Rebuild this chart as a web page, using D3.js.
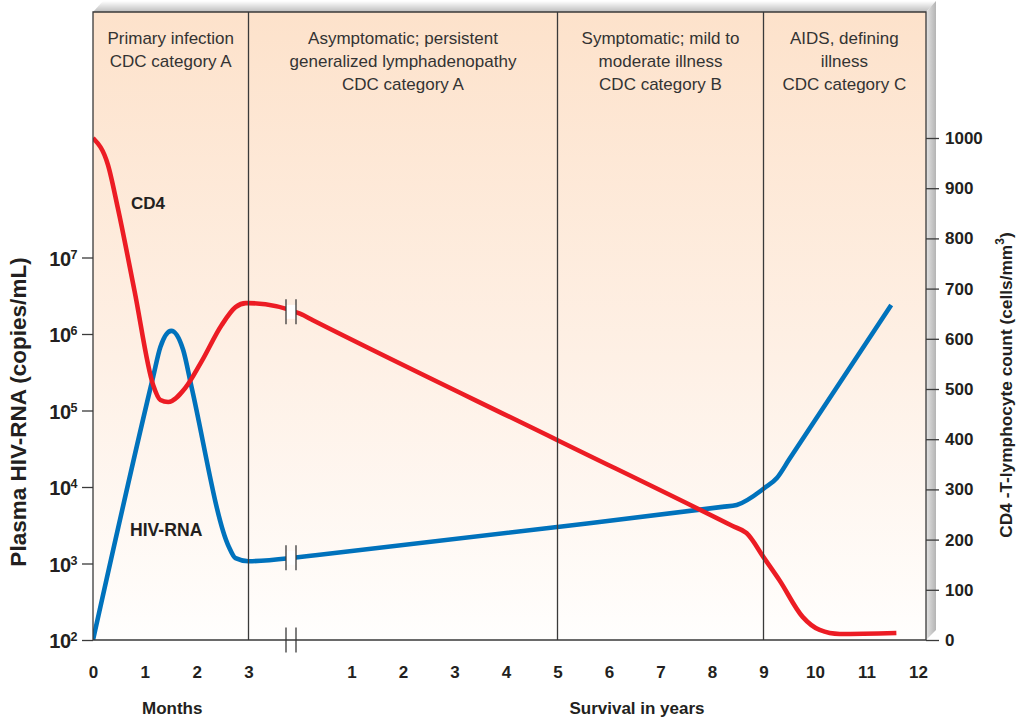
<!DOCTYPE html>
<html>
<head>
<meta charset="utf-8">
<script src="https://cdn.jsdelivr.net/npm/d3@7"></script>
<style>
  body { margin: 0; background: #ffffff; }
  svg { display: block; font-family: "Liberation Sans", Arial, Helvetica, sans-serif; }
</style>
</head>
<body>
<svg id="chart" width="1018" height="721"></svg>
<script>
// ---- Clinical phases shown as header columns ----
const phaseLabels = [
  ["Primary infection", "CDC category A"],
  ["Asymptomatic; persistent", "generalized lymphadenopathy", "CDC category A"],
  ["Symptomatic; mild to", "moderate illness", "CDC category B"],
  ["AIDS, defining", "illness", "CDC category C"]
];
// Phase boundaries as [time unit, value]
const phaseBounds = [["month", 0], ["month", 3], ["year", 5], ["year", 9], ["year", 12.14]];

// ---- Axis ticks ----
const monthTicks = [0, 1, 2, 3];
const yearTicks = [1, 2, 3, 4, 5, 6, 7, 8, 9, 10, 11, 12];
const hivExponents = [2, 3, 4, 5, 6, 7];
const cd4Ticks = [0, 100, 200, 300, 400, 500, 600, 700, 800, 900, 1000];

// ---- CD4 T-lymphocyte count (cells/mm3) ----
const cd4Months = [0, 0.29, 0.48, 0.80, 1.16, 1.30, 1.45, 1.78, 2.09, 2.48, 2.75, 2.95, 3.0];
const cd4MonthValues = [1000, 946, 860, 696, 508, 478, 474, 502, 554, 627, 663, 671, 671];
const cd4Years = [0, 0.25, 5, 8.4, 8.67, 9.02, 9.31, 9.76, 10.09, 10.48, 11.58];
const cd4YearValues = [650, 637, 398, 227, 213, 162, 119, 46, 20, 12, 14];

// ---- Plasma HIV-RNA (copies/mL) ----
const hivMonths = [0, 1.16, 1.30, 1.51, 1.74, 1.90, 2.62, 2.75, 3.0];
const hivMonthValues = [100, 275000, 676000, 1100000, 617000, 204000, 1660, 1175, 1070];
const hivYears = [0, 0.3, 5, 8.2, 8.48, 9.02, 9.26, 9.5, 11.48];
const hivYearValues = [1216, 1280, 3000, 5500, 5820, 9700, 13100, 23000, 2400000];

// ---- Layout ----
const L = 93, R = 926, T = 12, B = 640;
const ink = "#3a3a3a", textCol = "#231f20";
const redCol = "#ec1c24", blueCol = "#0072bc";

const svg = d3.select("#chart");

const xMonths = d3.scaleLinear().domain([0, 3]).range([L, 248.5]);
const xYears = d3.scaleLinear().domain([0, 12]).range([300, 918]);
const xAt = ([unit, v]) => unit === "month" ? xMonths(v) : xYears(v);
const yHiv = d3.scaleLog().domain([1e2, 1e7]).range([B, 257.5]);
const yCD4 = d3.scaleLinear().domain([0, 1000]).range([B, 138]);

// ---- Gradients ----
const defs = svg.append("defs");
const bg = defs.append("linearGradient").attr("id", "bgGrad")
  .attr("x1", 0).attr("y1", 0).attr("x2", 0).attr("y2", 1);
bg.append("stop").attr("offset", "0%").attr("stop-color", "#fde2cb");
bg.append("stop").attr("offset", "55%").attr("stop-color", "#fef0e5");
bg.append("stop").attr("offset", "100%").attr("stop-color", "#fffefd");

const topBevel = defs.append("linearGradient").attr("id", "topBevel")
  .attr("x1", 0).attr("y1", 0).attr("x2", 0).attr("y2", 1);
topBevel.append("stop").attr("offset", "0%").attr("stop-color", "#ffffff");
topBevel.append("stop").attr("offset", "100%").attr("stop-color", "#bdbdbd");

const sideBevel = defs.append("linearGradient").attr("id", "sideBevel")
  .attr("x1", 0).attr("y1", 0).attr("x2", 1).attr("y2", 0);
sideBevel.append("stop").attr("offset", "0%").attr("stop-color", "#e4e4e4");
sideBevel.append("stop").attr("offset", "100%").attr("stop-color", "#b4b4b4");

defs.append("clipPath").attr("id", "plotClip")
  .append("rect").attr("x", L).attr("y", T).attr("width", R - L).attr("height", B - T);

// ---- Panel with bevelled top and right edges ----
svg.append("polygon")
  .attr("points", [[L, T], [L + 10, T - 11], [R + 10, T - 11], [R, T]].join(" "))
  .attr("fill", "url(#topBevel)");
svg.append("polygon")
  .attr("points", [[R, T], [R + 10, T - 11], [R + 10, B - 10], [R, B]].join(" "))
  .attr("fill", "url(#sideBevel)");
svg.append("rect")
  .attr("x", L).attr("y", T).attr("width", R - L).attr("height", B - T)
  .attr("fill", "url(#bgGrad)");

// ---- Header labels per phase ----
const header = svg.append("g").attr("fill", "#333333").attr("font-size", 17).attr("text-anchor", "middle");
phaseLabels.forEach((lines, i) => {
  const cx = (xAt(phaseBounds[i]) + xAt(phaseBounds[i + 1])) / 2;
  const t = header.append("text").attr("x", cx).attr("y", 43.5);
  lines.forEach((ln, j) => t.append("tspan").attr("x", cx).attr("dy", j === 0 ? 0 : 23.2).text(ln));
});

// ---- Curves ----
const line = d3.line().x(d => d.x).y(d => d.y).curve(d3.curveMonotoneX);

const cd4Pts = cd4Months.map((t, i) => ({ x: xMonths(t), y: yCD4(cd4MonthValues[i]) }))
  .concat(cd4Years.map((t, i) => ({ x: xYears(t), y: yCD4(cd4YearValues[i]) })));
const hivPts = hivMonths.map((t, i) => ({ x: xMonths(t), y: yHiv(hivMonthValues[i]) }))
  .concat(hivYears.map((t, i) => ({ x: xYears(t), y: yHiv(hivYearValues[i]) })));

const curves = svg.append("g").attr("clip-path", "url(#plotClip)");
curves.append("path").attr("d", line(hivPts))
  .attr("fill", "none").attr("stroke", blueCol).attr("stroke-width", 4.6);
curves.append("path").attr("d", line(cd4Pts))
  .attr("fill", "none").attr("stroke", redCol).attr("stroke-width", 4.6);

// ---- Phase dividers ----
svg.append("g").selectAll("line")
  .data(phaseBounds.slice(1, -1))
  .join("line")
  .attr("x1", d => xAt(d)).attr("x2", d => xAt(d))
  .attr("y1", T).attr("y2", B)
  .attr("stroke", ink).attr("stroke-width", 1.3);

// ---- Panel border ----
svg.append("path")
  .attr("d", `M${L},${B}V${T}H${R}V${B}H${L}`)
  .attr("fill", "none").attr("stroke", ink).attr("stroke-width", 1.3);

// ---- Axis break between months and years ----
const breakA = xYears(0) - 14, breakB = xYears(0) - 4;
const breakAt = (months, mv, years, yv, yScale) => {
  const y0 = yScale(mv[mv.length - 1]), y1 = yScale(yv[0]);
  const x0 = xMonths(months[months.length - 1]), x1 = xYears(years[0]);
  const f = ((breakA + breakB) / 2 - x0) / (x1 - x0);
  return y0 + (y1 - y0) * f;
};
const breakYs = [
  { y: breakAt(cd4Months, cd4MonthValues, cd4Years, cd4YearValues, yCD4), gap: true },
  { y: breakAt(hivMonths, hivMonthValues, hivYears, hivYearValues, yHiv), gap: true },
  { y: B, gap: false }
];
const breaks = svg.append("g");
breakYs.forEach(b => {
  if (b.gap) {
    breaks.append("rect").attr("x", breakA).attr("y", b.y - 7)
      .attr("width", breakB - breakA).attr("height", 14).attr("fill", "#ffffff");
  }
  [breakA, breakB].forEach(x => breaks.append("line")
    .attr("x1", x).attr("x2", x).attr("y1", b.y - 12.5).attr("y2", b.y + 12.5)
    .attr("stroke", ink).attr("stroke-width", 1.3));
});

// ---- Left axis: HIV-RNA (log) ----
const leftAxis = svg.append("g").attr("transform", `translate(${L},0)`)
  .call(d3.axisLeft(yHiv).tickValues(hivExponents.map(e => Math.pow(10, e))).tickSize(11).tickFormat(() => ""));
leftAxis.select(".domain").remove();
leftAxis.selectAll(".tick line").attr("stroke", ink).attr("stroke-width", 1.3);
leftAxis.selectAll(".tick text").remove();
leftAxis.selectAll(".tick").each(function (d) {
  const t = d3.select(this).append("text")
    .attr("x", -16).attr("y", 7.5).attr("text-anchor", "end")
    .attr("fill", textCol).attr("font-size", 20).attr("font-weight", "bold")
    .attr("letter-spacing", -0.5);
  t.append("tspan").text("10");
  t.append("tspan").attr("font-size", 12.5).attr("dy", -7).text(Math.round(Math.log10(d)));
});

// ---- Right axis: CD4 count ----
const rightAxis = svg.append("g").attr("transform", `translate(${R},0)`)
  .call(d3.axisRight(yCD4).tickValues(cd4Ticks).tickSize(13).tickPadding(6).tickFormat(d3.format("d")));
rightAxis.select(".domain").remove();
rightAxis.selectAll(".tick line").attr("stroke", ink).attr("stroke-width", 1.3);
rightAxis.selectAll(".tick text").attr("fill", textCol).attr("font-size", 17)
  .attr("font-weight", "bold").attr("font-family", null);

// ---- Bottom axes: months then years ----
const styleBottom = g => {
  g.select(".domain").remove();
  g.selectAll(".tick line").remove();
  g.selectAll(".tick text").attr("fill", textCol).attr("font-size", 17)
    .attr("font-weight", "bold").attr("font-family", null);
};
svg.append("g").attr("transform", `translate(0,${B})`)
  .call(d3.axisBottom(xMonths).tickValues(monthTicks).tickSize(0).tickPadding(26).tickFormat(d3.format("d")))
  .call(styleBottom);
svg.append("g").attr("transform", `translate(0,${B})`)
  .call(d3.axisBottom(xYears).tickValues(yearTicks).tickSize(0).tickPadding(26).tickFormat(d3.format("d")))
  .call(styleBottom);

// ---- Axis titles ----
const bold = (sel, size = 17) => sel.attr("fill", textCol).attr("font-size", size).attr("font-weight", "bold");
svg.append("text").attr("x", xMonths(1.5) + 1.5).attr("y", 714).attr("text-anchor", "middle")
  .call(bold).text("Months");
svg.append("text").attr("x", 637).attr("y", 714).attr("text-anchor", "middle")
  .call(bold).text("Survival in years");
svg.append("text").attr("transform", "translate(26,412) rotate(-90)").attr("text-anchor", "middle")
  .call(bold, 22.5).text("Plasma HIV-RNA (copies/mL)");
const rt = svg.append("text").attr("transform", "translate(1012,385) rotate(-90)").attr("text-anchor", "middle")
  .call(bold, 17.3);
rt.append("tspan").text("CD4 -T-lymphocyte count (cells/mm");
rt.append("tspan").attr("font-size", 12).attr("dy", -8).text("3");
rt.append("tspan").attr("dy", 8).text(")");

// ---- Series labels ----
svg.append("text").attr("x", 131).attr("y", 209).call(bold).text("CD4");
svg.append("text").attr("x", 130).attr("y", 536).call(bold, 17.6).text("HIV-RNA");
</script>
</body>
</html>
